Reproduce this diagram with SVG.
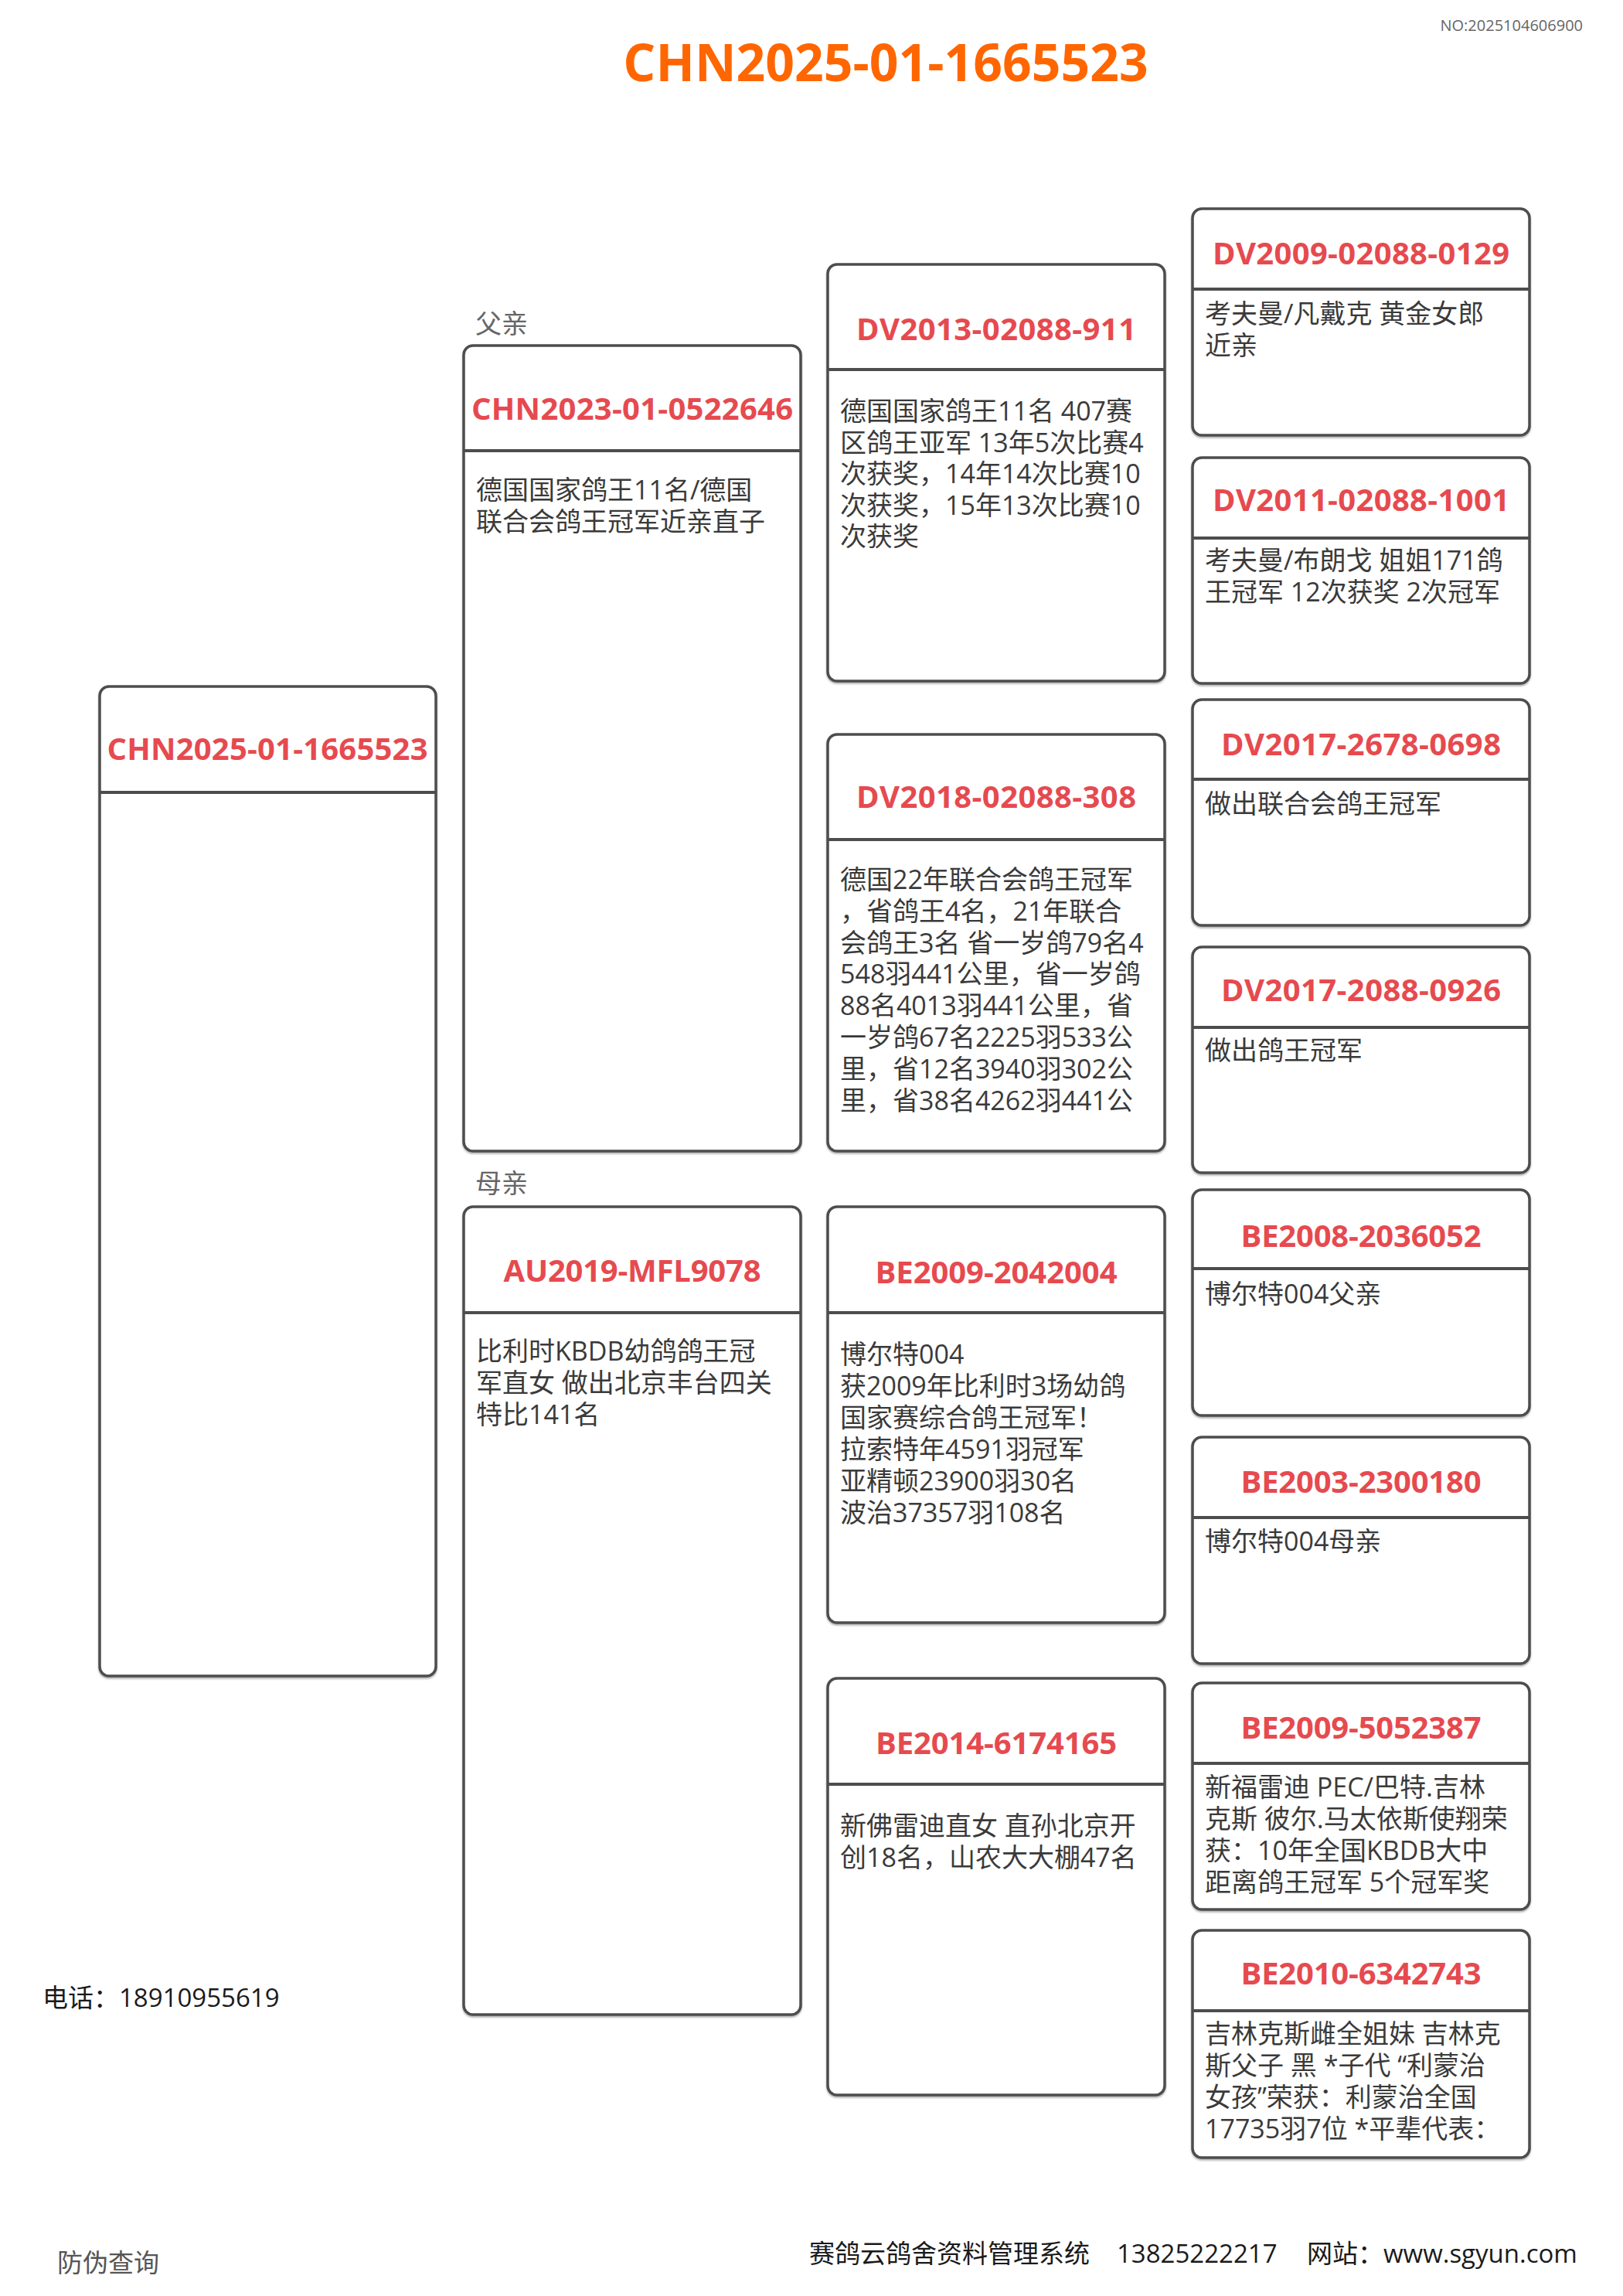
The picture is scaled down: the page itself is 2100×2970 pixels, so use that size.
<svg xmlns="http://www.w3.org/2000/svg" width="2100" height="2970" viewBox="0 0 2100 2970">
<defs>
<filter id="sh" x="-5%" y="-5%" width="110%" height="110%">
<feDropShadow dx="0" dy="2" stdDeviation="1.2" flood-color="#000" flood-opacity="0.3"/>
</filter>
</defs>
<style>
.box{fill:#fff;stroke:#4d4d4d;stroke-width:3.5;filter:url(#sh)}
.dv{stroke:#4d4d4d;stroke-width:4}
.t{font-family:"Open Sans","Noto Sans CJK SC",sans-serif;font-weight:700;font-size:40px;fill:#E64A4F;text-anchor:middle}
.d{font-family:"Open Sans","Noto Sans CJK SC",sans-serif;font-size:34px;fill:#3a3a3a}
.lb{font-family:"Open Sans","Noto Sans CJK SC",sans-serif;font-size:34px;fill:#666}
.ft{font-family:"Open Sans","Noto Sans CJK SC",sans-serif;font-size:33px;fill:#1a1a1a}
</style>
<rect width="2100" height="2970" fill="#fff"/>
<text x="2048" y="40" font-family="'Open Sans',sans-serif" font-size="20" fill="#666" text-anchor="end">NO:2025104606900</text>
<text x="1146" y="105" font-family="'Open Sans','Noto Sans CJK SC',sans-serif" font-weight="700" font-size="66" fill="#FF6600" text-anchor="middle">CHN2025-01-1665523</text>

<g id="connectors"></g>

<g id="subject">
<rect class="box" x="129" y="888" width="435" height="1280" rx="12"/>
<line class="dv" x1="129" y1="1025" x2="564" y2="1025"/>
<text class="t" x="346" y="983" textLength="415">CHN2025-01-1665523</text>
</g>

<g id="father">
<text class="lb" x="615" y="431">父亲</text>
<rect class="box" x="600" y="447" width="436" height="1042" rx="12"/>
<line class="dv" x1="600" y1="583" x2="1036" y2="583"/>
<text class="t" x="818" y="543" textLength="416">CHN2023-01-0522646</text>
<text class="d" y="646"><tspan x="616">德国国家鸽王11名/德国</tspan><tspan x="616" dy="41">联合会鸽王冠军近亲直子</tspan></text>
</g>

<g id="mother">
<text class="lb" x="615" y="1543">母亲</text>
<rect class="box" x="600" y="1561" width="436" height="1045" rx="12"/>
<line class="dv" x1="600" y1="1698" x2="1036" y2="1698"/>
<text class="t" x="818" y="1658" textLength="333">AU2019-MFL9078</text>
<text class="d" y="1760"><tspan x="616">比利时KBDB幼鸽鸽王冠</tspan><tspan x="616" dy="41">军直女 做出北京丰台四关</tspan><tspan x="616" dy="41">特比141名</tspan></text>
</g>

<g id="ff">
<rect class="box" x="1071" y="342" width="436" height="539" rx="12"/>
<line class="dv" x1="1071" y1="478" x2="1507" y2="478"/>
<text class="t" x="1289" y="440" textLength="362">DV2013-02088-911</text>
<text class="d" y="544"><tspan x="1087">德国国家鸽王11名 407赛</tspan><tspan x="1087" dy="40.6">区鸽王亚军 13年5次比赛4</tspan><tspan x="1087" dy="40.6">次获奖，14年14次比赛10</tspan><tspan x="1087" dy="40.6">次获奖，15年13次比赛10</tspan><tspan x="1087" dy="40.6">次获奖</tspan></text>
</g>

<g id="fm">
<rect class="box" x="1071" y="950" width="436" height="539" rx="12"/>
<line class="dv" x1="1071" y1="1086" x2="1507" y2="1086"/>
<text class="t" x="1289" y="1045" textLength="362">DV2018-02088-308</text>
<text class="d" y="1150"><tspan x="1087">德国22年联合会鸽王冠军</tspan><tspan x="1087" dy="40.8">，省鸽王4名，21年联合</tspan><tspan x="1087" dy="40.8">会鸽王3名 省一岁鸽79名4</tspan><tspan x="1087" dy="40.8">548羽441公里，省一岁鸽</tspan><tspan x="1087" dy="40.8">88名4013羽441公里，省</tspan><tspan x="1087" dy="40.8">一岁鸽67名2225羽533公</tspan><tspan x="1087" dy="40.8">里，省12名3940羽302公</tspan><tspan x="1087" dy="40.8">里，省38名4262羽441公</tspan></text>
</g>

<g id="mf">
<rect class="box" x="1071" y="1561" width="436" height="538" rx="12"/>
<line class="dv" x1="1071" y1="1698" x2="1507" y2="1698"/>
<text class="t" x="1289" y="1660" textLength="313">BE2009-2042004</text>
<text class="d" y="1764"><tspan x="1087">博尔特004</tspan><tspan x="1087" dy="41">获2009年比利时3场幼鸽</tspan><tspan x="1087" dy="41">国家赛综合鸽王冠军！</tspan><tspan x="1087" dy="41">拉索特年4591羽冠军</tspan><tspan x="1087" dy="41">亚精顿23900羽30名</tspan><tspan x="1087" dy="41">波治37357羽108名</tspan></text>
</g>

<g id="mm">
<rect class="box" x="1071" y="2171" width="436" height="539" rx="12"/>
<line class="dv" x1="1071" y1="2308" x2="1507" y2="2308"/>
<text class="t" x="1289" y="2269" textLength="312">BE2014-6174165</text>
<text class="d" y="2374"><tspan x="1087">新佛雷迪直女 直孙北京开</tspan><tspan x="1087" dy="41">创18名，山农大大棚47名</tspan></text>
</g>

<g id="fff">
<rect class="box" x="1543" y="270" width="436" height="293" rx="12"/>
<line class="dv" x1="1543" y1="374" x2="1979" y2="374"/>
<text class="t" x="1761" y="342" textLength="384">DV2009-02088-0129</text>
<text class="d" y="418"><tspan x="1559">考夫曼/凡戴克 黄金女郎</tspan><tspan x="1559" dy="41">近亲</tspan></text>
</g>

<g id="ffm">
<rect class="box" x="1543" y="592" width="436" height="292" rx="12"/>
<line class="dv" x1="1543" y1="696" x2="1979" y2="696"/>
<text class="t" x="1761" y="661" textLength="384">DV2011-02088-1001</text>
<text class="d" y="737"><tspan x="1559">考夫曼/布朗戈 姐姐171鸽</tspan><tspan x="1559" dy="41">王冠军 12次获奖 2次冠军</tspan></text>
</g>

<g id="fmf">
<rect class="box" x="1543" y="905" width="436" height="292" rx="12"/>
<line class="dv" x1="1543" y1="1008" x2="1979" y2="1008"/>
<text class="t" x="1761" y="977" textLength="362">DV2017-2678-0698</text>
<text class="d" x="1559" y="1052">做出联合会鸽王冠军</text>
</g>

<g id="fmm">
<rect class="box" x="1543" y="1225" width="436" height="292" rx="12"/>
<line class="dv" x1="1543" y1="1329" x2="1979" y2="1329"/>
<text class="t" x="1761" y="1295" textLength="362">DV2017-2088-0926</text>
<text class="d" x="1559" y="1371">做出鸽王冠军</text>
</g>

<g id="mff">
<rect class="box" x="1543" y="1539" width="436" height="292" rx="12"/>
<line class="dv" x1="1543" y1="1641" x2="1979" y2="1641"/>
<text class="t" x="1761" y="1613" textLength="311">BE2008-2036052</text>
<text class="d" x="1559" y="1686">博尔特004父亲</text>
</g>

<g id="mfm">
<rect class="box" x="1543" y="1859" width="436" height="293" rx="12"/>
<line class="dv" x1="1543" y1="1963" x2="1979" y2="1963"/>
<text class="t" x="1761" y="1931" textLength="311">BE2003-2300180</text>
<text class="d" x="1559" y="2006">博尔特004母亲</text>
</g>

<g id="mmf">
<rect class="box" x="1543" y="2177" width="436" height="293" rx="12"/>
<line class="dv" x1="1543" y1="2281" x2="1979" y2="2281"/>
<text class="t" x="1761" y="2249" textLength="311">BE2009-5052387</text>
<text class="d" y="2324"><tspan x="1559">新福雷迪 PEC/巴特.吉林</tspan><tspan x="1559" dy="41">克斯 彼尔.马太依斯使翔荣</tspan><tspan x="1559" dy="41">获：10年全国KBDB大中</tspan><tspan x="1559" dy="41">距离鸽王冠军 5个冠军奖</tspan></text>
</g>

<g id="mmm">
<rect class="box" x="1543" y="2497" width="436" height="294" rx="12"/>
<line class="dv" x1="1543" y1="2601" x2="1979" y2="2601"/>
<text class="t" x="1761" y="2567" textLength="311">BE2010-6342743</text>
<text class="d" y="2643"><tspan x="1559">吉林克斯雌全姐妹 吉林克</tspan><tspan x="1559" dy="41">斯父子 黑 *子代 “利蒙治</tspan><tspan x="1559" dy="41">女孩”荣获：利蒙治全国</tspan><tspan x="1559" dy="41">17735羽7位 *平辈代表：</tspan></text>
</g>

<g id="footer">
<text class="ft" x="55" y="2596">电话：18910955619</text>
<text class="ft" x="74" y="2939" style="fill:#555">防伪查询</text>
<text class="ft" y="2927"><tspan x="1047">赛鸽云鸽舍资料管理系统</tspan><tspan x="1445">13825222217</tspan><tspan x="1691">网站：www.sgyun.com</tspan></text>
</g>
</svg>
